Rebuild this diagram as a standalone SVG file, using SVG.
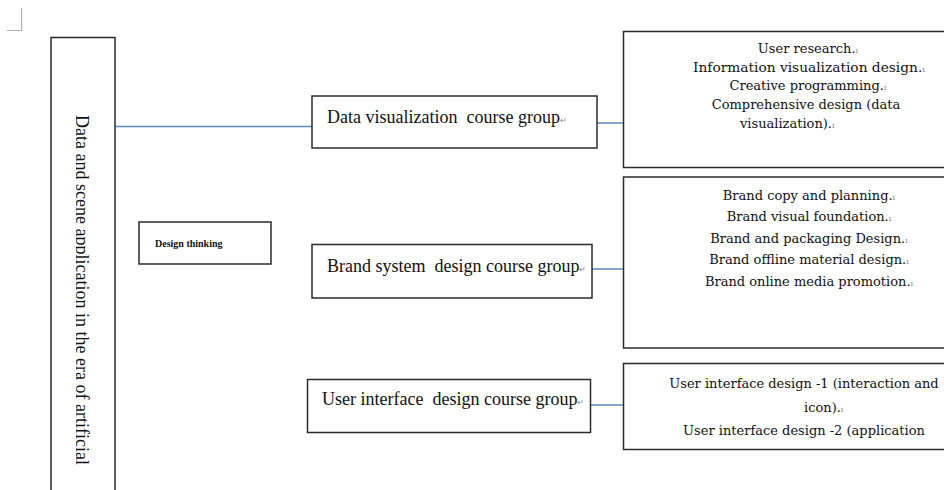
<svg xmlns="http://www.w3.org/2000/svg" width="944" height="490" viewBox="0 0 944 490">
<style>
.box{fill:#fff;stroke:#2b2b2b;stroke-width:1.5}
.conn{stroke:#5b86c0;stroke-width:1.5;fill:none}
.t{font-family:"Liberation Serif","Times New Roman",serif;fill:#111}
.g{font-size:18px}
.r{font-family:"DejaVu Serif","Liberation Serif",serif;font-size:13px;fill:#111}
.pm{font-size:8px;fill:#888}
</style>
<defs>
<clipPath id="clipL"><rect x="76" y="37" width="40" height="460"/></clipPath>
</defs>
<rect width="944" height="490" fill="#fff"/>
<path d="M21.5 8 V30.5 H7" stroke="#b0b0b0" stroke-width="1.2" fill="none"/>
<g id="connectors">
<line class="conn" x1="115" y1="126.5" x2="312" y2="126.5"/>
<line class="conn" x1="597" y1="123" x2="624" y2="123"/>
<line class="conn" x1="592" y1="269" x2="624" y2="269"/>
<line class="conn" x1="591" y1="405" x2="624" y2="405"/>
</g>
<g id="main">
<rect class="box" x="51" y="37.5" width="64" height="470"/>
<g clip-path="url(#clipL)">
<text class="t" transform="translate(76,115) rotate(90)" font-size="18" textLength="350" lengthAdjust="spacingAndGlyphs">Data and scene application in the era of artificial</text>
</g>
</g>
<g id="design-thinking">
<rect class="box" x="139" y="222" width="132" height="42"/>
<text class="t" x="155" y="247" font-size="10" font-weight="bold">Design thinking</text>
</g>
<g id="data-vis-group">
<rect class="box" x="312" y="96" width="285" height="52"/>
<text class="t g" x="327" y="123">Data visualization&#160; course group<tspan class="pm">↵</tspan></text>
</g>
<g id="brand-group">
<rect class="box" x="312" y="244.5" width="280" height="53.5"/>
<text class="t g" x="327" y="272">Brand system&#160; design course group<tspan class="pm">↵</tspan></text>
</g>
<g id="ui-group">
<rect class="box" x="307.5" y="379.5" width="283" height="53"/>
<text class="t g" x="322" y="405">User interface&#160; design course group<tspan class="pm">↵</tspan></text>
</g>
<g id="data-vis-courses">
<rect class="box" x="623.5" y="31.5" width="330" height="136"/>
<text class="r" x="808" y="53" text-anchor="middle">User research.<tspan class="pm">ı</tspan></text>
<text class="r" x="809" y="71.5" text-anchor="middle" textLength="232" lengthAdjust="spacingAndGlyphs">Information visualization design.<tspan class="pm">ı</tspan></text>
<text class="r" x="808" y="90" text-anchor="middle">Creative programming.<tspan class="pm">ı</tspan></text>
<text class="r" x="806" y="108.5" text-anchor="middle">Comprehensive design (data</text>
<text class="r" x="740" y="128">visualization).<tspan class="pm">ı</tspan></text>
</g>
<g id="brand-courses">
<rect class="box" x="623.5" y="177" width="330" height="171"/>
<text class="r" x="809" y="200" text-anchor="middle">Brand copy and planning.<tspan class="pm">ı</tspan></text>
<text class="r" x="809" y="221" text-anchor="middle">Brand visual foundation.<tspan class="pm">ı</tspan></text>
<text class="r" x="809" y="243" text-anchor="middle">Brand and packaging Design.<tspan class="pm">ı</tspan></text>
<text class="r" x="809" y="264" text-anchor="middle">Brand offline material design.<tspan class="pm">ı</tspan></text>
<text class="r" x="809" y="285.5" text-anchor="middle">Brand online media promotion.<tspan class="pm">ı</tspan></text>
</g>
<g id="ui-courses">
<rect class="box" x="623.5" y="363.5" width="330" height="86"/>
<text class="r" x="804" y="388" text-anchor="middle">User interface design -1 (interaction and</text>
<text class="r" x="804" y="411.5">icon).<tspan class="pm">ı</tspan></text>
<text class="r" x="804" y="435" text-anchor="middle">User interface design -2 (application</text>
</g>
</svg>
